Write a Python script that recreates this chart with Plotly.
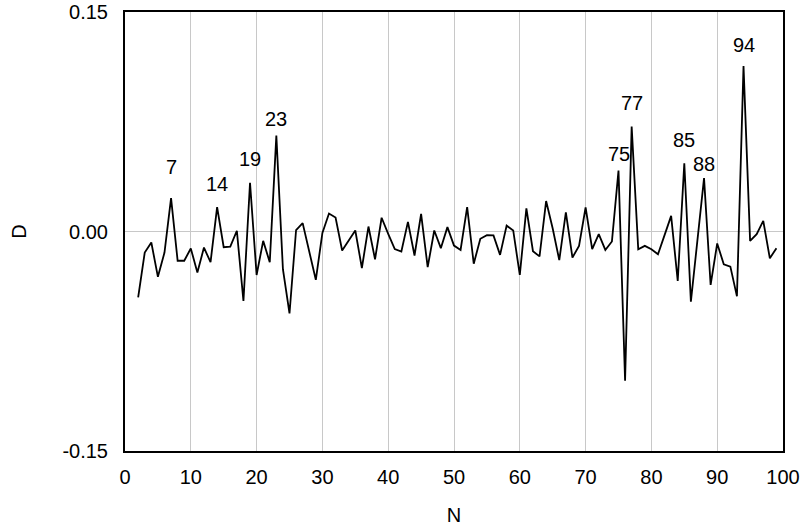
import plotly.graph_objects as go

N = list(range(2, 100))
D = [
    -0.045, -0.0144, -0.0075, -0.031, -0.0144, 0.0228, -0.020, -0.020, -0.0116,   # 2-10
    -0.028, -0.011, -0.021, 0.0167, -0.0107, -0.0103, 0.0005, -0.0475, 0.0333, -0.0297,  # 11-20
    -0.0064, -0.021, 0.0655, -0.0258, -0.056, 0.001, 0.0057, -0.0137, -0.033, -0.001,  # 21-30
    0.0123, 0.0095, -0.013, -0.0062, 0.0007, -0.025, 0.0034, -0.019, 0.0094, -0.0016,  # 31-40
    -0.012, -0.0137, 0.0066, -0.0164, 0.0121, -0.0244, 0.0007, -0.0114, 0.003, -0.0096,  # 41-50
    -0.0126, 0.0167, -0.022, -0.005, -0.0025, -0.0027, -0.016, 0.004, 0.0007, -0.0297,  # 51-60
    0.0158, -0.0135, -0.017, 0.0208, 0.002, -0.0196, 0.013, -0.0178, -0.0098, 0.0164,  # 61-70
    -0.0121, -0.0018, -0.0126, -0.0068, 0.0416, -0.102, 0.0717, -0.0121, -0.0098, -0.0121,  # 71-80
    -0.0155, -0.0025, 0.0107, -0.0338, 0.0466, -0.048, -0.0057, 0.0365, -0.0365, -0.0082,  # 81-90
    -0.0224, -0.024, -0.0443, 0.113, -0.0064, -0.0018, 0.0073, -0.0183, -0.0114,  # 91-99
]

label_N = [7, 14, 19, 23, 75, 77, 85, 88, 94]
label_shift = [31, 23, 24, 17, 17, 24, 23, 14, 21]

x_ticks = list(range(0, 101, 10))
y_ticks = [-0.15, 0.0, 0.15]
y_tick_text = ["-0.15", "0.00", "0.15"]

FONT = "Liberation Sans, Arial, sans-serif"

fig = go.Figure()
fig.add_trace(go.Scatter(x=N, y=D, mode="lines",
                         line=dict(color="black", width=1.8),
                         showlegend=False, hoverinfo="skip"))

for n, s in zip(label_N, label_shift):
    fig.add_annotation(x=n, y=D[N.index(n)], text=str(n), showarrow=False,
                       yshift=s, font=dict(family=FONT, size=20, color="black"))

axis_common = dict(
    showline=True, linecolor="black", linewidth=2, mirror=True,
    gridcolor="#c8c8c8", gridwidth=1, zeroline=False, ticks="",
    tickfont=dict(family=FONT, size=20, color="black"),
    automargin=False, ticklabeloverflow="allow",
)

fig.update_xaxes(range=[0, 100], tickvals=x_ticks, showgrid=True, ticklabelstandoff=7,
                 title=dict(text="N", font=dict(family=FONT, size=20, color="black"), standoff=21),
                 **axis_common)
fig.update_yaxes(range=[-0.15, 0.15], tickvals=y_ticks, ticktext=y_tick_text, showgrid=True,
                 ticklabelstandoff=11,
                 title=dict(text="D", font=dict(family=FONT, size=20, color="black"), standoff=30),
                 **axis_common)

fig.update_layout(width=804, height=531, margin=dict(l=125, r=21, t=12, b=80),
                  plot_bgcolor="white", paper_bgcolor="white")

fig.write_html("out.html", config={"displayModeBar": False},
               post_script="document.body.style.margin='0';")
